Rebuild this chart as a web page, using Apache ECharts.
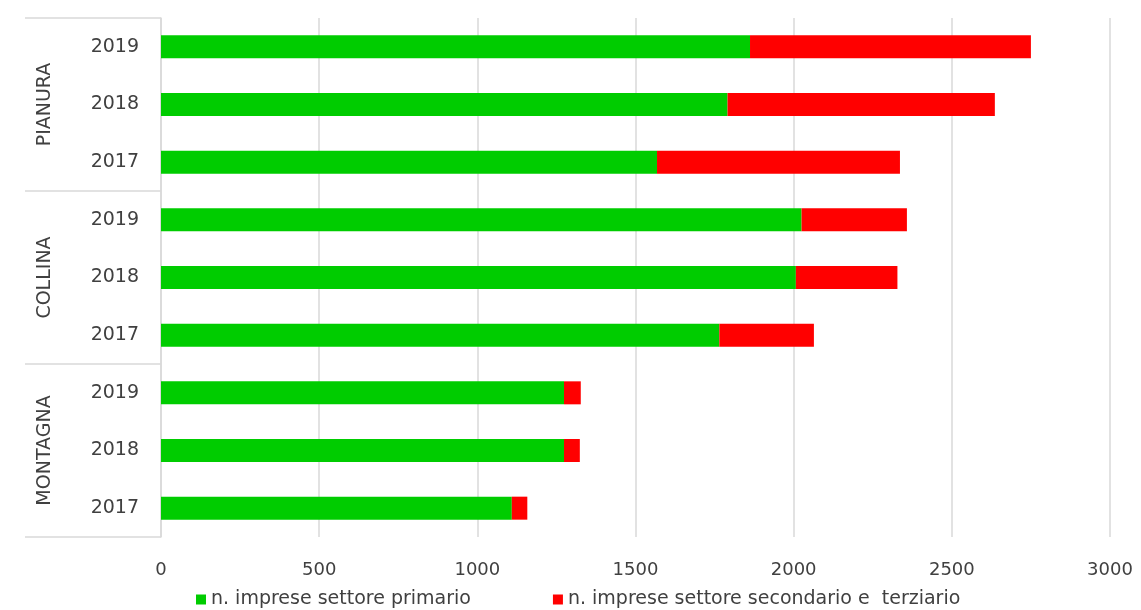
<!DOCTYPE html>
<html lang="it">
<head>
    <meta charset="UTF-8">
    <title>Imprese per zona altimetrica</title>
    <script src="https://cdn.jsdelivr.net/npm/echarts@6/dist/echarts.min.js"></script>
    <style>
        html, body { margin: 0; padding: 0; background: #fff; }
        #chart { width: 1141px; height: 610px; }
    </style>
</head>
<body>
<div id="chart"></div>
<script>
    // data -------------------------------
    var years = ['2019', '2018', '2017', '2019', '2018', '2017', '2019', '2018', '2017'];
    var zones = ['PIANURA', 'COLLINA', 'MONTAGNA'];
    var primario = [1862, 1791, 1568, 2025, 2007, 1765, 1274, 1274, 1109];
    var secondario = [888, 845, 768, 333, 321, 299, 53, 50, 49];
    var xTicks = [0, 500, 1000, 1500, 2000, 2500, 3000];
    var seriesNames = ['n. imprese settore primario', 'n. imprese settore secondario e  terziario'];

    var font = "'DejaVu Sans', sans-serif";
    var txt = '#404040';

    function bars() {
        var chart = echarts.init(document.getElementById('chart'));
        var option = {
            animation: false,
            textStyle: { fontFamily: font },
            grid: {
                left: 161,
                right: 31,
                top: 18,
                bottom: 73
            },
            legend: {
                data: seriesNames,
                top: 585,
                left: 191,
                itemGap: 82,
                itemWidth: 10,
                itemHeight: 10,
                icon: 'rect',
                textStyle: { color: txt, fontSize: 19, fontFamily: font }
            },
            xAxis: {
                type: 'value',
                min: xTicks[0],
                max: xTicks[xTicks.length - 1],
                interval: 500,
                axisLine: { show: false },
                axisTick: { show: false },
                axisLabel: {
                    color: txt, fontSize: 18, margin: 24, fontFamily: font,
                    formatter: function (v) { return String(v); }
                },
                splitLine: { lineStyle: { color: '#d9d9d9', width: 1.5 } }
            },
            yAxis: [
                {
                    type: 'category',
                    data: years,
                    inverse: true,
                    position: 'left',
                    axisLine: { show: true, lineStyle: { color: '#d9d9d9', width: 1.5 } },
                    axisTick: { show: false },
                    axisLabel: { color: txt, fontSize: 19, margin: 22, fontFamily: font }
                },
                {
                    type: 'category',
                    data: zones,
                    inverse: true,
                    position: 'left',
                    axisLine: { show: false },
                    axisTick: { show: true, length: 136, lineStyle: { color: '#d9d9d9', width: 1.5 } },
                    axisLabel: { color: txt, fontSize: 19, rotate: 90, margin: 106, fontFamily: font }
                }
            ],
            series: [
                {
                    name: seriesNames[0],
                    type: 'bar',
                    stack: 'tot',
                    barWidth: 23,
                    itemStyle: { color: '#00cc00' },
                    data: primario
                },
                {
                    name: seriesNames[1],
                    type: 'bar',
                    stack: 'tot',
                    barWidth: 23,
                    itemStyle: { color: '#ff0000' },
                    data: secondario
                }
            ]
        };
        chart.setOption(option);
    }
    bars();
</script>
</body>
</html>
